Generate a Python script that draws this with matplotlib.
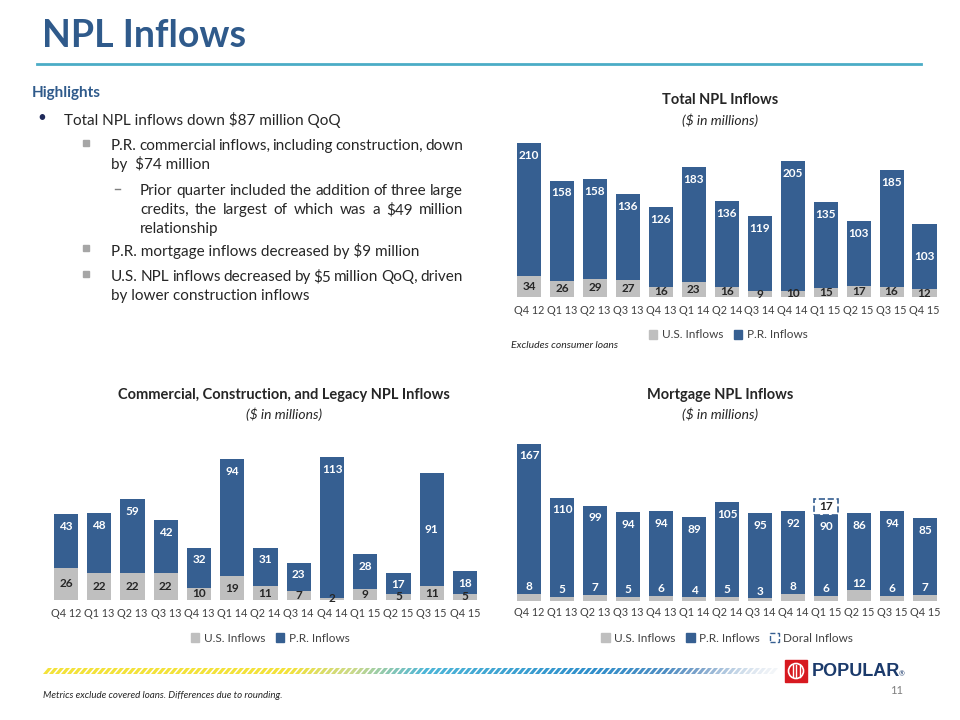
import numpy as np
import matplotlib
matplotlib.use("Agg")
import matplotlib.pyplot as plt
import matplotlib.patches as patches
from matplotlib.colors import LinearSegmentedColormap

plt.rcParams['font.family'] = ['Lato', 'DejaVu Sans']

quarters = ['Q4 12', 'Q1 13', 'Q2 13', 'Q3 13', 'Q4 13', 'Q1 14', 'Q2 14',
            'Q3 14', 'Q4 14', 'Q1 15', 'Q2 15', 'Q3 15', 'Q4 15']

total_us = [34, 26, 29, 27, 16, 23, 16, 9, 10, 15, 17, 16, 12]
total_pr = [210, 158, 158, 136, 126, 183, 136, 119, 205, 135, 103, 185, 103]

comm_us = [26, 22, 22, 22, 10, 19, 11, 7, 2, 9, 5, 11, 5]
comm_pr = [43, 48, 59, 42, 32, 94, 31, 23, 113, 28, 17, 91, 18]

mort_us = [8, 5, 7, 5, 6, 4, 5, 3, 8, 6, 12, 6, 7]
mort_pr = [167, 110, 99, 94, 94, 89, 105, 95, 92, 90, 86, 94, 85]
mort_doral = [0, 0, 0, 0, 0, 0, 0, 0, 0, 17, 0, 0, 0]

BLUE = '#365F91'
GRAY = '#BFBFBF'
TITLE_BLUE = '#2F5A8B'
TXT = '#262626'
TICK = '#404040'

W, H = 960, 720
fig = plt.figure(figsize=(9.6, 7.2), dpi=100)
renderer = fig.canvas.get_renderer()


def fx(x):
    return x / W


def fy(y):
    return 1 - y / H


def add_ax(left, top, right, bottom):
    return fig.add_axes([fx(left), fy(bottom), (right - left) / W, (bottom - top) / H])


def put_line(x0, y, s, x1=None, size=11):
    # x1 given -> spread the words so the line ends at x1 (justified text)
    if x1 is None:
        fig.text(fx(x0), fy(y), s, fontsize=size, color=TXT, va='center')
        return
    words = s.split()
    items = [fig.text(fx(x0), fy(y), w, fontsize=size, color=TXT, va='center') for w in words]
    widths = [t.get_window_extent(renderer).width for t in items]
    gap = (x1 - x0 - sum(widths)) / (len(words) - 1)
    x = x0
    for t, w in zip(items, widths):
        t.set_x(fx(x))
        x += w + gap


def draw_bars(ax, us, pr, ymax, us_inside=True, mid=(), pad=7):
    x = np.arange(len(quarters))
    us = np.array(us)
    pr = np.array(pr)
    ax.bar(x, us, width=0.73, color=GRAY, zorder=2)
    ax.bar(x, pr, width=0.73, bottom=us, color=BLUE, zorder=2)
    for i in x:
        if i in mid:
            ax.text(i, us[i] + pr[i] / 2, str(pr[i]), ha='center', va='center',
                    color='white', fontsize=8.5, fontweight='bold', zorder=4)
        else:
            ax.annotate(str(pr[i]), xy=(i, us[i] + pr[i]), xytext=(0, -8.8),
                        textcoords='offset points', ha='center', va='center',
                        color='white', fontsize=8.5, fontweight='bold', zorder=4)
        if us_inside:
            ax.text(i, us[i] / 2, str(us[i]), ha='center', va='center',
                    color=TXT, fontsize=8.5, fontweight='bold', zorder=4)
        else:
            ax.annotate(str(us[i]), xy=(i, us[i]), xytext=(0, 5),
                        textcoords='offset points', ha='center', va='center',
                        color='white', fontsize=8.5, fontweight='bold', zorder=4)
    ax.set_xlim(-0.5, len(quarters) - 0.5)
    ax.set_ylim(0, ymax)
    ax.set_xticks(x)
    ax.set_xticklabels(quarters, fontsize=7.8, color=TICK)
    ax.tick_params(axis='x', length=0, pad=pad)
    ax.set_yticks([])
    for s in ax.spines.values():
        s.set_visible(False)
    ax.patch.set_alpha(0)


def legend(ax, x, y, extra=False):
    handles = [patches.Patch(color=GRAY, label='U.S. Inflows'),
               patches.Patch(color=BLUE, label='P.R. Inflows')]
    if extra:
        handles.append(patches.Patch(facecolor='white', edgecolor=BLUE,
                                     linestyle='--', linewidth=1.0, label='Doral Inflows'))
    leg = ax.legend(handles=handles, loc='center', bbox_to_anchor=(fx(x), fy(y)),
                    bbox_transform=fig.transFigure, ncol=len(handles), frameon=False,
                    fontsize=8.5, handlelength=0.75, handleheight=0.75,
                    handletextpad=0.35, columnspacing=0.9)
    for t in leg.get_texts():
        t.set_color(TICK)


# header
fig.text(fx(42), fy(36), 'NPL Inflows', fontsize=27, fontweight='bold',
         color=TITLE_BLUE, va='center', ha='left')
fig.add_artist(plt.Line2D([fx(37), fx(921)], [fy(64), fy(64)], color='#4BACC6', lw=2))

# highlights
fig.text(fx(32), fy(93), 'Highlights', fontsize=11, fontweight='bold',
         color=TITLE_BLUE, va='center')
fig.text(fx(37), fy(118), '\u2022', fontsize=11, color='#1F2A5A', va='center')
put_line(64, 120, 'Total NPL inflows down $87 million QoQ')
put_line(111, 146, 'P.R. commercial inflows, including construction, down', 463)
put_line(111, 164, 'by  $74 million')
put_line(140, 191, 'Prior quarter included the addition of three large', 463)
put_line(140, 210, 'credits, the largest of which was a $49 million', 463)
put_line(140, 229, 'relationship')
put_line(111, 251, 'P.R. mortgage inflows decreased by $9 million')
put_line(111, 277, 'U.S. NPL inflows decreased by $5 million QoQ, driven', 463)
put_line(111, 296, 'by lower construction inflows')
for y in [143, 248, 274]:
    fig.add_artist(patches.Rectangle((fx(83), fy(y + 3)), 6 / W, 6 / H,
                                     transform=fig.transFigure, color='#A6A6A6'))
fig.add_artist(plt.Line2D([fx(115), fx(120)], [fy(189), fy(189)], color='#7F7F7F', lw=1))

# total chart
fig.text(fx(720), fy(100), 'Total NPL Inflows', fontsize=10.5, fontweight='bold',
         color=TXT, ha='center', va='center')
fig.text(fx(720), fy(120), '($ in millions)', fontsize=10, style='italic',
         color=TXT, ha='center', va='center')
ax1 = add_ax(512.5, 139, 941, 297)
draw_bars(ax1, total_us, total_pr, 250, us_inside=True, mid=(12,), pad=6)
legend(ax1, 728, 335)
fig.text(fx(511), fy(345), 'Excludes consumer loans', fontsize=7.5, style='italic',
         color=TXT, va='center')

# commercial chart
fig.text(fx(284), fy(395), 'Commercial, Construction, and Legacy NPL Inflows', fontsize=10.5,
         fontweight='bold', color=TXT, ha='center', va='center')
fig.text(fx(284), fy(414), '($ in millions)', fontsize=10, style='italic',
         color=TXT, ha='center', va='center')
ax2 = add_ax(49.4, 450.6, 481.6, 600)
draw_bars(ax2, comm_us, comm_pr, 120, us_inside=True, mid=(11,), pad=5.5)
legend(ax2, 270, 638)

# mortgage chart
fig.text(fx(720), fy(395), 'Mortgage NPL Inflows', fontsize=10.5, fontweight='bold',
         color=TXT, ha='center', va='center')
fig.text(fx(720), fy(414), '($ in millions)', fontsize=10, style='italic',
         color=TXT, ha='center', va='center')
ax3 = add_ax(512.5, 439, 941.5, 601)
draw_bars(ax3, mort_us, mort_pr, 180, us_inside=False, pad=4)
base = np.array(mort_us) + np.array(mort_pr)
for i, d in enumerate(mort_doral):
    if d > 0:
        ax3.bar(i, d, width=0.73, bottom=base[i], facecolor='white', edgecolor=BLUE,
                linestyle='--', linewidth=1.2, zorder=3)
        ax3.text(i, base[i] + d / 2, str(d), ha='center', va='center', color=TXT,
                 fontsize=8.5, fontweight='bold', zorder=4)
legend(ax3, 727, 638, extra=True)

# decorative stripes
cmap = LinearSegmentedColormap.from_list('band', [
    (0.0, '#F3E23A'), (0.33, '#F3E23A'), (0.42, '#C9D98A'), (0.52, '#4DB6D8'),
    (0.75, '#2F8FCB'), (0.9, '#5F8FC0'), (1.0, '#E0E8F0')])
x0, x1 = 43, 770
for x in np.arange(x0, x1, 6):
    t = (x - x0) / (x1 - x0)
    pts = [(fx(x), fy(674)), (fx(x + 4), fy(674)), (fx(x + 9), fy(668)), (fx(x + 5), fy(668))]
    fig.add_artist(patches.Polygon(pts, closed=True, transform=fig.transFigure,
                                   color=cmap(t), alpha=1 - 0.6 * max(0, t - 0.85) / 0.15, lw=0))

# logo
fig.add_artist(patches.Rectangle((fx(785), fy(682)), 22 / W, 22 / H,
                                 transform=fig.transFigure, color='#D71920'))
fig.add_artist(patches.Ellipse((fx(796), fy(671)), 15 / W, 15 / H, transform=fig.transFigure,
                               facecolor='none', edgecolor='white', lw=1.2))
for dx in [-3.5, 0, 3.5]:
    fig.add_artist(plt.Line2D([fx(796 + dx), fx(796 + dx)], [fy(665), fy(677)],
                              color='white', lw=1))
fig.text(fx(812), fy(671), 'POPULAR', fontsize=13, fontweight='bold', color='#1B3A6B',
         va='center', family='Liberation Sans')
fig.text(fx(899), fy(674), '\u00ae', fontsize=5, color='#1B3A6B', va='center')
fig.text(fx(903), fy(690), '11', fontsize=8, color='#7F7F7F', ha='right', va='center')

fig.text(fx(43), fy(696), 'Metrics exclude covered loans. Differences due to rounding.',
         fontsize=7, style='italic', color=TXT, va='center')

fig.savefig('out.png', dpi=100)
